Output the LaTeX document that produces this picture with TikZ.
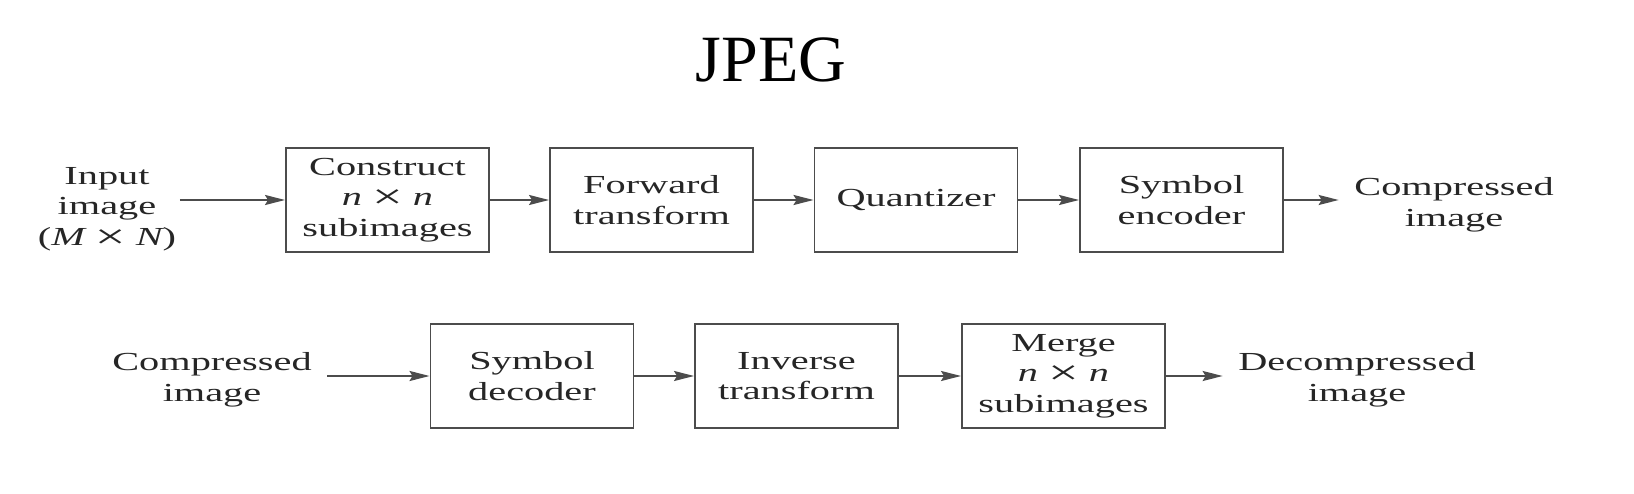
\documentclass[tikz,border=0pt]{standalone}
\usepackage{fontspec}
\setmainfont{Liberation Serif}
\newfontfamily\wideserif{Liberation Serif}[FakeStretch=1.55]
\newcommand{\tms}{\raisebox{-0.9pt}{\fontsize{10}{8.7}\selectfont ×}}
\usepackage{tikz}
\usetikzlibrary{arrows.meta,positioning}

\begin{document}
\begin{tikzpicture}[
  blk/.style={draw=black!70, line width=0.55pt, rectangle,
    minimum width=2.03cm, minimum height=1.04cm, inner sep=0pt,
    align=center, text=black!85,
    font=\wideserif\fontsize{7.4}{8.7}\selectfont},
  lbl/.style={align=center, inner sep=0.15cm, text=black!85,
    font=\wideserif\fontsize{7.4}{8.7}\selectfont},
  arr/.style={-{Stealth[length=0.2cm,width=0.1cm,inset=0.03cm]}, draw=black!70,
    line width=0.55pt}]
  \useasboundingbox[fill=white] (0,0) rectangle (16.34,-4.94);
  % Title
  \node[font=\fontsize{18.8}{22}\selectfont, anchor=base] (title) at (7.71,-0.82) {JPEG};
  % Compression row
  \node[lbl, inner sep=0.03cm] (in) at (1.07,-2.09)
    {Input\\image\\({\itshape M} \tms{} {\itshape N})};
  \node[blk] (cons)  at (3.875,-2.00) {Construct\\{\itshape n} \tms{} {\itshape n}\\subimages};
  \node[blk] (fwd)   at (6.515,-2.00) {Forward\\transform};
  \node[blk] (quant) at (9.16,-2.00)  {Quantizer};
  \node[blk] (enc)   at (11.815,-2.00) {Symbol\\encoder};
  \node[lbl] (cout)  at (14.54,-2.05) {Compressed\\image};
  % Decompression row
  \node[lbl] (din)   at (2.12,-3.80)  {Compressed\\image};
  \node[blk] (dec)   at (5.32,-3.76)  {Symbol\\decoder};
  \node[blk] (inv)   at (7.965,-3.76) {Inverse\\transform};
  \node[blk] (mrg)   at (10.635,-3.76) {Merge\\{\itshape n} \tms{} {\itshape n}\\subimages};
  \node[lbl] (dout)  at (13.57,-3.80) {Decompressed\\image};
  % Arrows
  \draw[arr] (in.east |- cons) -- (cons);
  \draw[arr] (cons) -- (fwd);
  \draw[arr] (fwd) -- (quant);
  \draw[arr] (quant) -- (enc);
  \draw[arr] (enc) -- (enc -| cout.west);
  \draw[arr] (din.east |- dec) -- (dec);
  \draw[arr] (dec) -- (inv);
  \draw[arr] (inv) -- (mrg);
  \draw[arr] (mrg) -- (mrg -| dout.west);
\end{tikzpicture}
\end{document}
